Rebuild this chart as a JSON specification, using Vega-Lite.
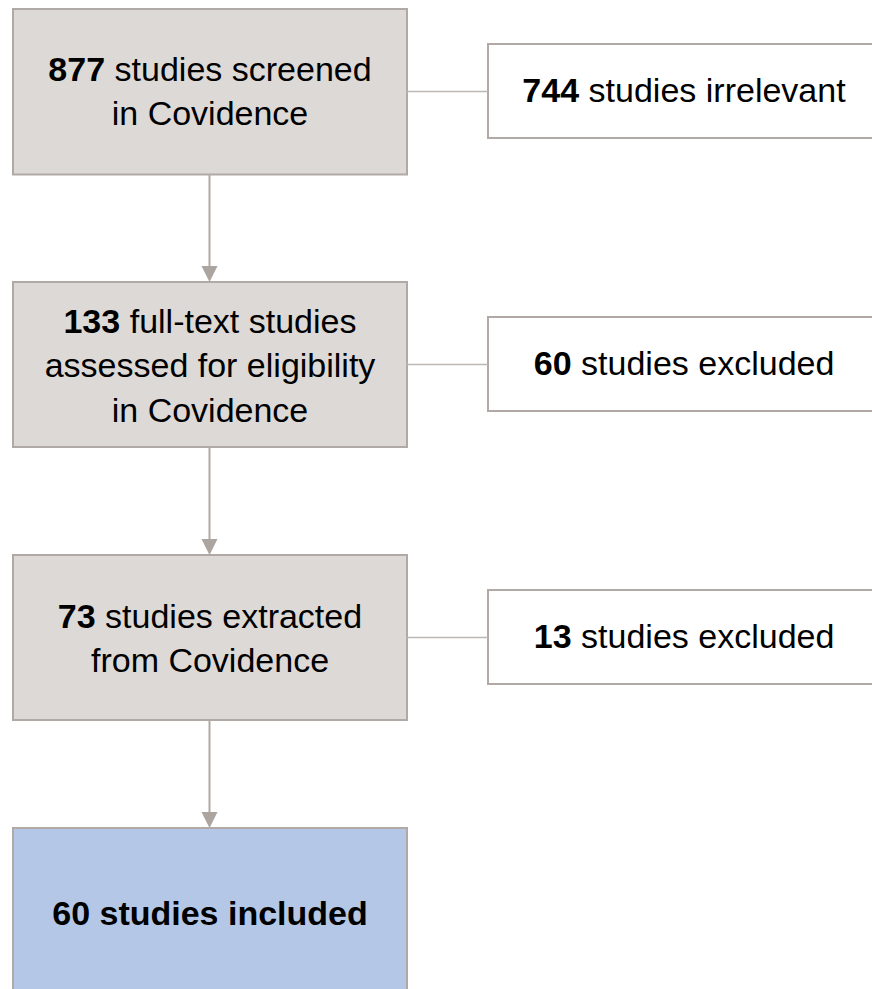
{
  "$schema": "https://vega.github.io/schema/vega-lite/v6.json",
  "width": 872,
  "height": 989,
  "autosize": {"type": "none"},
  "padding": 0,
  "background": "white",
  "config": {"view": {"stroke": null}},
  "datasets": {
    "boxes": [
      {"id": "screened", "kind": "stage", "x": 13, "x2": 407, "y": 9, "y2": 174.5},
      {"id": "fulltext", "kind": "stage", "x": 13, "x2": 407, "y": 282, "y2": 447},
      {"id": "extracted", "kind": "stage", "x": 13, "x2": 407, "y": 555, "y2": 720},
      {"id": "included", "kind": "final", "x": 13, "x2": 407, "y": 828, "y2": 1000},
      {"id": "irrelevant", "kind": "excluded", "x": 488, "x2": 885, "y": 44, "y2": 138},
      {"id": "excluded60", "kind": "excluded", "x": 488, "x2": 885, "y": 317, "y2": 411},
      {"id": "excluded13", "kind": "excluded", "x": 488, "x2": 885, "y": 590, "y2": 684}
    ],
    "links": [
      {"dir": "down", "x": 209.5, "y": 175, "x2": 209.5, "y2": 270},
      {"dir": "down", "x": 209.5, "y": 448, "x2": 209.5, "y2": 543},
      {"dir": "down", "x": 209.5, "y": 721, "x2": 209.5, "y2": 816},
      {"dir": "side", "x": 407, "y": 91.5, "x2": 488, "y2": 91.5},
      {"dir": "side", "x": 407, "y": 364.5, "x2": 488, "y2": 364.5},
      {"dir": "side", "x": 407, "y": 637.5, "x2": 488, "y2": 637.5}
    ],
    "arrows": [
      {"x": 209.5, "y": 282},
      {"x": 209.5, "y": 555},
      {"x": 209.5, "y": 828}
    ],
    "labels": [
      {"part": "num", "x": 105.1, "y": 81, "text": "877"},
      {"part": "rest", "x": 114.6, "y": 81, "text": "studies screened"},
      {"part": "line", "x": 210, "y": 125, "text": "in Covidence"},
      {"part": "num", "x": 579.1, "y": 102, "text": "744"},
      {"part": "rest", "x": 588.6, "y": 102, "text": "studies irrelevant"},
      {"part": "num", "x": 120.2, "y": 333, "text": "133"},
      {"part": "rest", "x": 129.7, "y": 333, "text": "full-text studies"},
      {"part": "line", "x": 210, "y": 377, "text": "assessed for eligibility"},
      {"part": "line", "x": 210, "y": 421.5, "text": "in Covidence"},
      {"part": "num", "x": 571.6, "y": 375, "text": "60"},
      {"part": "rest", "x": 581.1, "y": 375, "text": "studies excluded"},
      {"part": "num", "x": 95.7, "y": 628, "text": "73"},
      {"part": "rest", "x": 105.1, "y": 628, "text": "studies extracted"},
      {"part": "line", "x": 210, "y": 672, "text": "from Covidence"},
      {"part": "num", "x": 571.6, "y": 648, "text": "13"},
      {"part": "rest", "x": 581.1, "y": 648, "text": "studies excluded"},
      {"part": "final", "x": 210, "y": 925, "text": "60 studies included"}
    ]
  },
  "layer": [
    {
      "data": {"name": "boxes"},
      "mark": {"type": "rect", "stroke": "#B1A9A5", "strokeWidth": 2},
      "encoding": {
        "x": {"field": "x", "type": "quantitative", "scale": {"domain": [0, 872], "nice": false, "zero": false}, "axis": null},
        "x2": {"field": "x2"},
        "y": {"field": "y", "type": "quantitative", "scale": {"domain": [0, 989], "reverse": true, "nice": false, "zero": false}, "axis": null},
        "y2": {"field": "y2"},
        "color": {"field": "kind", "type": "nominal", "scale": {"domain": ["stage", "excluded", "final"], "range": ["#DDD9D6", "#FFFFFF", "#B4C7E7"]}, "legend": null}
      }
    },
    {
      "data": {"name": "links"},
      "transform": [{"filter": "datum.dir === 'down'"}],
      "mark": {"type": "rule", "color": "#B1A9A5", "strokeWidth": 2},
      "encoding": {
        "x": {"field": "x", "type": "quantitative"},
        "x2": {"field": "x2"},
        "y": {"field": "y", "type": "quantitative"},
        "y2": {"field": "y2"}
      }
    },
    {
      "data": {"name": "links"},
      "transform": [{"filter": "datum.dir === 'side'"}],
      "mark": {"type": "rule", "color": "#BDB6B2", "strokeWidth": 1.5},
      "encoding": {
        "x": {"field": "x", "type": "quantitative"},
        "x2": {"field": "x2"},
        "y": {"field": "y", "type": "quantitative"},
        "y2": {"field": "y2"}
      }
    },
    {
      "data": {"name": "arrows"},
      "mark": {"type": "point", "shape": "M-1,-2L1,-2L0,0Z", "size": 256, "filled": true, "color": "#ACA49F", "opacity": 1, "strokeWidth": 0},
      "encoding": {
        "x": {"field": "x", "type": "quantitative"},
        "y": {"field": "y", "type": "quantitative"}
      }
    },
    {
      "data": {"name": "labels"},
      "transform": [{"filter": "datum.part === 'num'"}],
      "mark": {"type": "text", "font": "Liberation Sans", "fontSize": 34, "fontWeight": "bold", "align": "right", "baseline": "alphabetic", "color": "#000000"},
      "encoding": {
        "x": {"field": "x", "type": "quantitative"},
        "y": {"field": "y", "type": "quantitative"},
        "text": {"field": "text"}
      }
    },
    {
      "data": {"name": "labels"},
      "transform": [{"filter": "datum.part === 'rest'"}],
      "mark": {"type": "text", "font": "Liberation Sans", "fontSize": 34, "fontWeight": "normal", "align": "left", "baseline": "alphabetic", "color": "#000000"},
      "encoding": {
        "x": {"field": "x", "type": "quantitative"},
        "y": {"field": "y", "type": "quantitative"},
        "text": {"field": "text"}
      }
    },
    {
      "data": {"name": "labels"},
      "transform": [{"filter": "datum.part === 'line'"}],
      "mark": {"type": "text", "font": "Liberation Sans", "fontSize": 34, "fontWeight": "normal", "align": "center", "baseline": "alphabetic", "color": "#000000"},
      "encoding": {
        "x": {"field": "x", "type": "quantitative"},
        "y": {"field": "y", "type": "quantitative"},
        "text": {"field": "text"}
      }
    },
    {
      "data": {"name": "labels"},
      "transform": [{"filter": "datum.part === 'final'"}],
      "mark": {"type": "text", "font": "Liberation Sans", "fontSize": 34, "fontWeight": "bold", "align": "center", "baseline": "alphabetic", "color": "#000000"},
      "encoding": {
        "x": {"field": "x", "type": "quantitative"},
        "y": {"field": "y", "type": "quantitative"},
        "text": {"field": "text"}
      }
    }
  ]
}
